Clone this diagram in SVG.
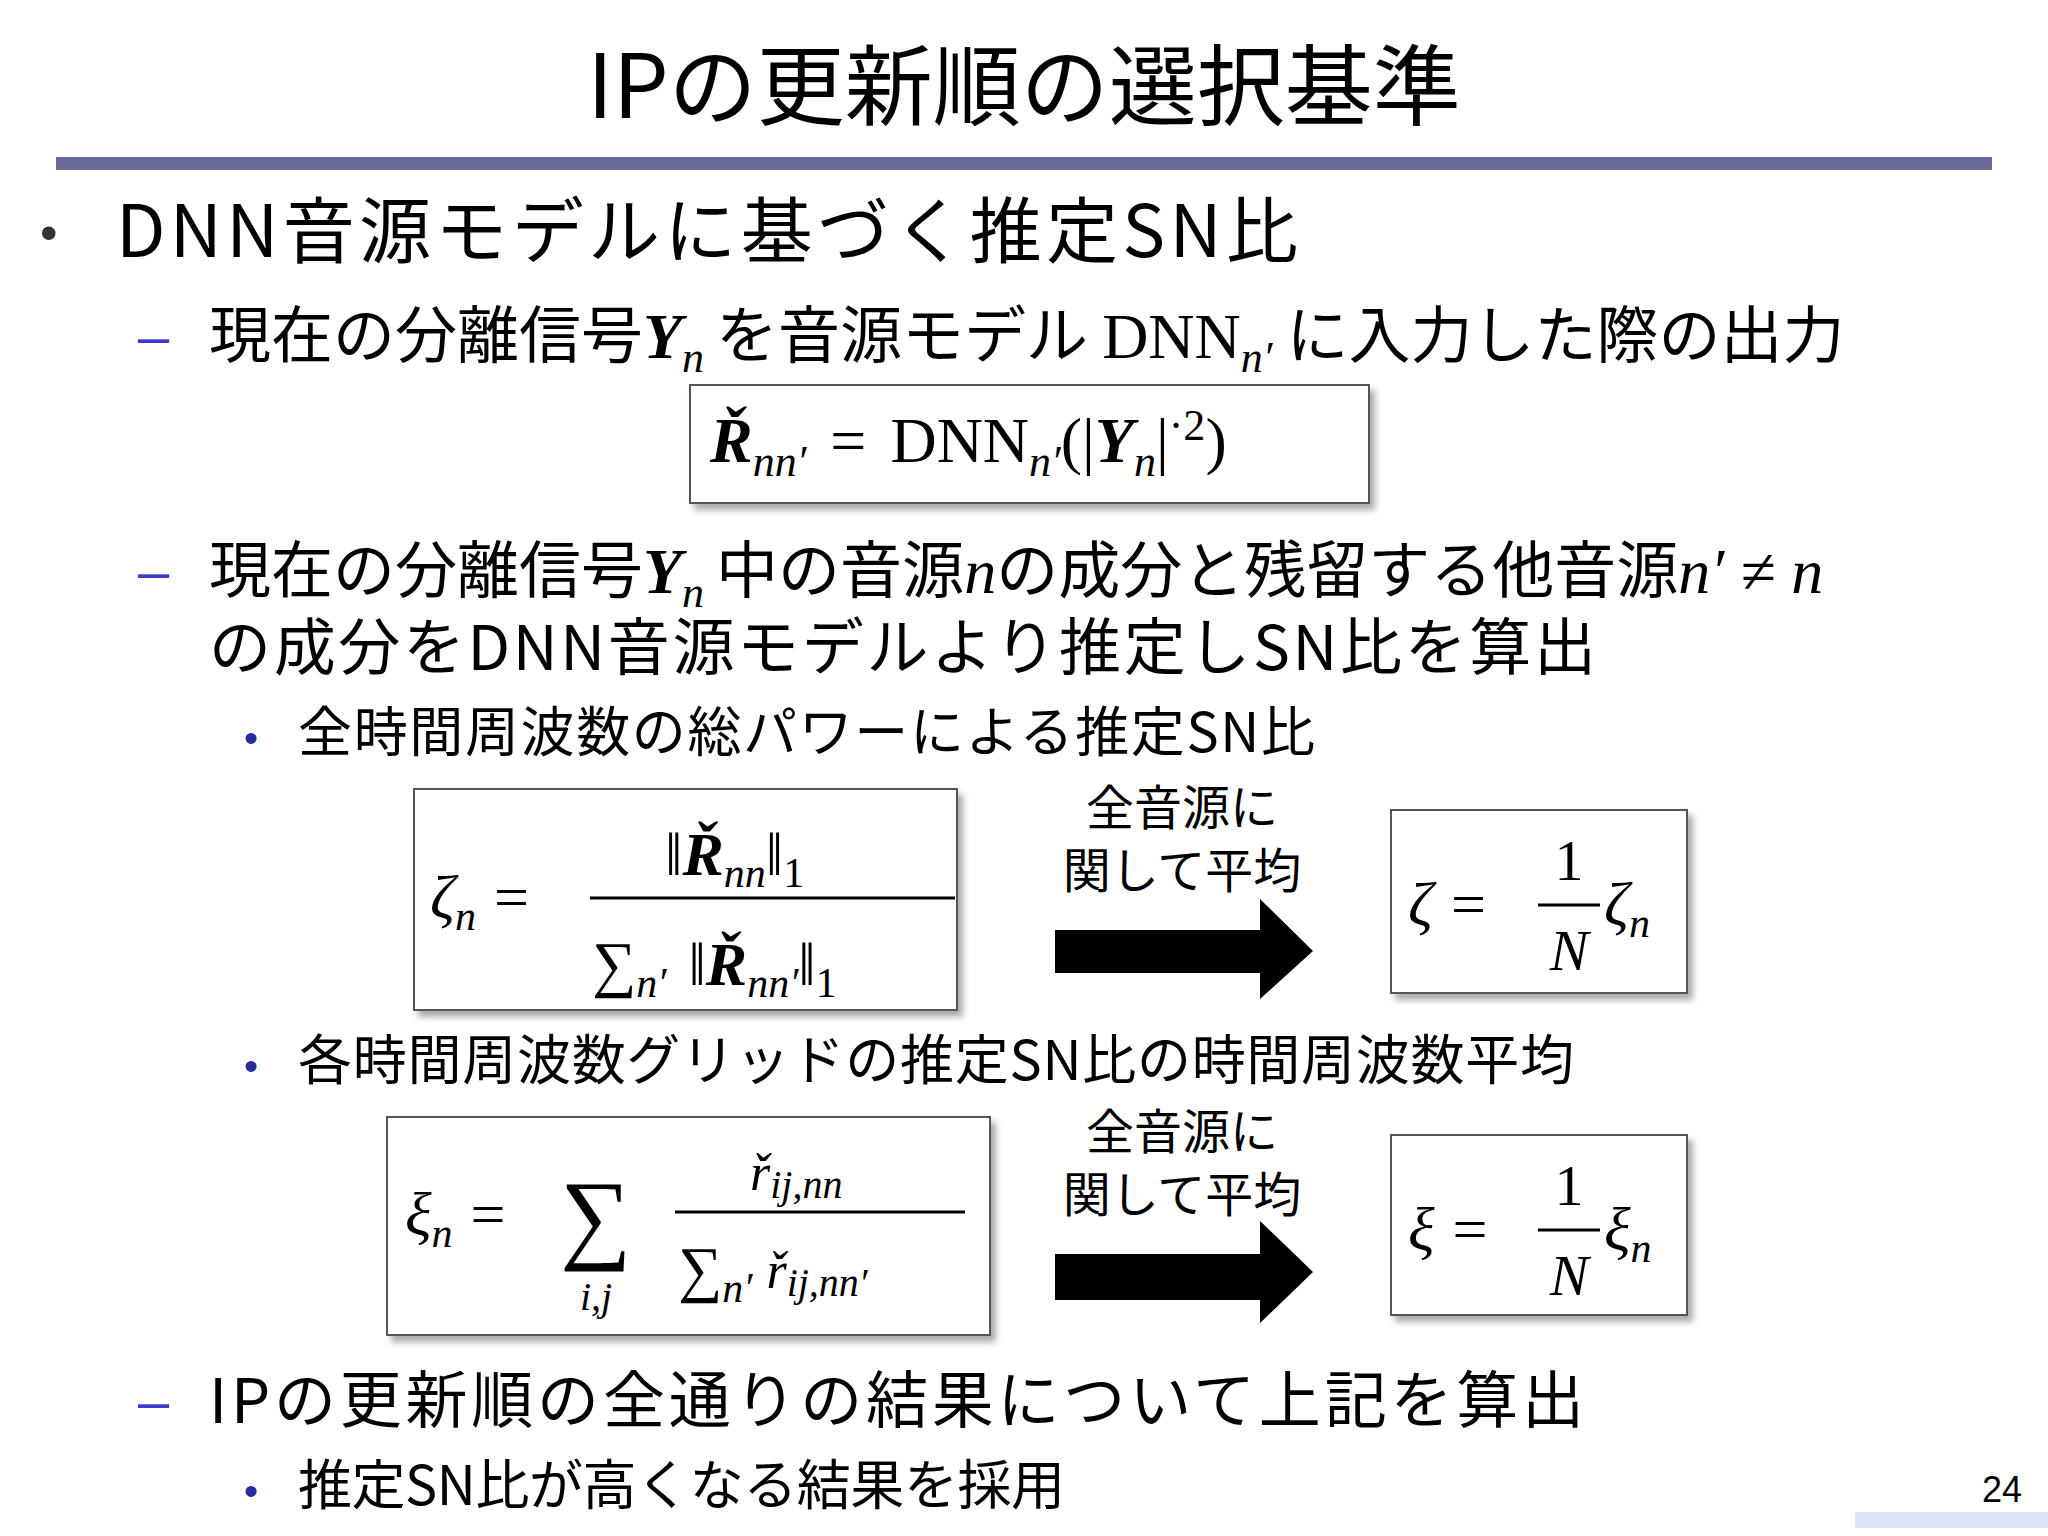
<svg xmlns="http://www.w3.org/2000/svg" width="2048" height="1536" viewBox="0 0 2048 1536">
<defs>
<filter id="sh" x="-10%" y="-10%" width="130%" height="130%"><feDropShadow dx="5" dy="6" stdDeviation="3" flood-color="#888" flood-opacity="0.7"/></filter>
<style>
.jp{font-family:"Noto Sans CJK JP","Noto Sans",sans-serif;fill:#000}
.m{font-family:"Liberation Serif","DejaVu Serif",serif;fill:#000}
.i{font-style:italic}
.b{font-weight:bold}
.box{fill:#fff;stroke:#555;stroke-width:2;filter:url(#sh)}
.dash{fill:#3b3bd0;font-family:"Liberation Sans",sans-serif}
.dot{fill:#333;font-family:"Liberation Sans",sans-serif}
.sdot{fill:#2a2aa0;font-family:"Liberation Sans",sans-serif}
</style>
</defs>
<rect width="2048" height="1536" fill="#fff"/>
<g id="title">
<text class="jp" x="1024" y="118" font-size="88" text-anchor="middle">IPの更新順の選択基準</text>
<rect x="56" y="157" width="1936" height="13" fill="#6b6b9a"/>
</g>
<g id="body">
<text class="dot" x="40" y="250" font-size="50">•</text>
<text class="jp" x="116" y="257" font-size="72" textLength="1182" lengthAdjust="spacing">DNN音源モデルに基づく推定SN比</text>
<text class="dash" x="138" y="355" font-size="56">–</text>
<text class="jp" x="209" y="358" font-size="62">現在の分離信号<tspan class="m i b" font-size="64">Y</tspan><tspan class="m i" font-size="44" dy="14">n</tspan><tspan dy="-14" dx="12">を音源モデル</tspan><tspan class="m" font-size="64" dx="14">DNN</tspan><tspan class="m i" font-size="44" dy="14">n′</tspan><tspan dy="-14" dx="14">に入力した際の出力</tspan></text>
<g id="box1"><rect class="box" x="690" y="385" width="679" height="118"/>
<text class="m" x="710" y="462" font-size="64"><tspan class="i b">Ř</tspan><tspan class="i" font-size="44" dy="14">nn′</tspan><tspan dy="-14" dx="24">=</tspan><tspan dx="24">DNN</tspan><tspan class="i" font-size="44" dy="14">n′</tspan><tspan dy="-14">(|</tspan><tspan class="i b">Y</tspan><tspan class="i" font-size="44" dy="14">n</tspan><tspan dy="-14">|</tspan><tspan font-size="44" dy="-22">·2</tspan><tspan dy="22">)</tspan></text></g>
<text class="dash" x="138" y="590" font-size="56">–</text>
<text class="jp" x="209" y="593" font-size="62">現在の分離信号<tspan class="m i b" font-size="64">Y</tspan><tspan class="m i" font-size="44" dy="14">n</tspan><tspan dy="-14" dx="12">中の音源</tspan><tspan class="m i" font-size="64">n</tspan><tspan>の成分と残留する他音源</tspan><tspan class="m i" font-size="64">n′ ≠ n</tspan></text>
<text class="jp" x="209" y="670" font-size="62" textLength="1387" lengthAdjust="spacing">の成分をDNN音源モデルより推定しSN比を算出</text>
<text class="sdot" x="244" y="752" font-size="40">•</text>
<text class="jp" x="298" y="752" font-size="54" textLength="1017" lengthAdjust="spacing">全時間周波数の総パワーによる推定SN比</text>
<g id="box2"><rect class="box" x="414" y="789" width="543" height="221"/>
<text class="m i" x="430" y="918" font-size="62">ζ<tspan font-size="42" dy="12">n</tspan><tspan font-style="normal" dy="-12" dx="18">=</tspan></text>
<line x1="590" y1="898" x2="955" y2="898" stroke="#000" stroke-width="3"/>
<text class="m" x="665" y="875" font-size="62">‖<tspan class="i b">Ř</tspan><tspan class="i" font-size="42" dy="12">nn</tspan><tspan dy="-12">‖</tspan><tspan font-size="42" dy="12">1</tspan></text>
<text class="m" x="592" y="985" font-size="62">∑<tspan class="i" font-size="42" dy="12">n′</tspan><tspan dy="-12" dx="22">‖</tspan><tspan class="i b">Ř</tspan><tspan class="i" font-size="42" dy="12">nn′</tspan><tspan dy="-12">‖</tspan><tspan font-size="42" dy="12">1</tspan></text></g>
<g id="lbl1"><text class="jp" x="1182" y="825" font-size="48" text-anchor="middle">全音源に</text>
<text class="jp" x="1182" y="888" font-size="48" text-anchor="middle">関して平均</text></g>
<g id="box3"><rect class="box" x="1391" y="810" width="296" height="183"/>
<text class="m i" x="1408" y="925" font-size="62">ζ<tspan font-style="normal" dx="18">=</tspan></text>
<line x1="1538" y1="905" x2="1600" y2="905" stroke="#000" stroke-width="3"/>
<text class="m" x="1569" y="880" font-size="58" text-anchor="middle">1</text>
<text class="m i" x="1569" y="970" font-size="58" text-anchor="middle">N</text>
<text class="m i" x="1604" y="925" font-size="62">ζ<tspan font-size="42" dy="12">n</tspan></text></g>
<text class="sdot" x="244" y="1080" font-size="40">•</text>
<text class="jp" x="298" y="1080" font-size="54" textLength="1276" lengthAdjust="spacing">各時間周波数グリッドの推定SN比の時間周波数平均</text>
<g id="box4"><rect class="box" x="387" y="1117" width="603" height="218"/>
<text class="m i" x="405" y="1235" font-size="62">ξ<tspan font-size="42" dy="12">n</tspan><tspan font-style="normal" dy="-12" dx="18">=</tspan></text>
<text class="m" x="560" y="1250" font-size="100">∑</text>
<text class="m i" x="580" y="1310" font-size="40">i,j</text>
<line x1="675" y1="1212" x2="965" y2="1212" stroke="#000" stroke-width="3"/>
<text class="m i" x="750" y="1190" font-size="52">ř<tspan font-size="40" dy="8">ij,nn</tspan></text>
<text class="m" x="678" y="1290" font-size="62">∑<tspan class="i" font-size="42" dy="12">n′</tspan><tspan class="i" font-size="52" dy="-14" dx="14">ř</tspan><tspan class="i" font-size="40" dy="8">ij,nn′</tspan></text></g>
<g id="lbl2"><text class="jp" x="1182" y="1149" font-size="48" text-anchor="middle">全音源に</text>
<text class="jp" x="1182" y="1212" font-size="48" text-anchor="middle">関して平均</text></g>
<g id="box5"><rect class="box" x="1391" y="1135" width="296" height="180"/>
<text class="m i" x="1408" y="1250" font-size="62">ξ<tspan font-style="normal" dx="18">=</tspan></text>
<line x1="1538" y1="1230" x2="1600" y2="1230" stroke="#000" stroke-width="3"/>
<text class="m" x="1569" y="1205" font-size="58" text-anchor="middle">1</text>
<text class="m i" x="1569" y="1295" font-size="58" text-anchor="middle">N</text>
<text class="m i" x="1604" y="1250" font-size="62">ξ<tspan font-size="42" dy="12">n</tspan></text></g>
<text class="dash" x="138" y="1420" font-size="56">–</text>
<text class="jp" x="209" y="1423" font-size="62" textLength="1375" lengthAdjust="spacing">IPの更新順の全通りの結果について上記を算出</text>
<text class="sdot" x="244" y="1505" font-size="40">•</text>
<text class="jp" x="298" y="1505" font-size="54" textLength="767" lengthAdjust="spacing">推定SN比が高くなる結果を採用</text>
<text x="2022" y="1502" font-size="36" font-family="Liberation Sans,sans-serif" text-anchor="end">24</text>
<rect x="1855" y="1512" width="193" height="16" fill="#dde3f5"/>
</g>
<g id="connectors">
<polygon points="1055,930 1260,930 1260,899 1313,951 1260,999 1260,973 1055,973" fill="#000"/>
<polygon points="1055,1254 1260,1254 1260,1221 1313,1272 1260,1323 1260,1300 1055,1300" fill="#000"/>
</g>
</svg>
